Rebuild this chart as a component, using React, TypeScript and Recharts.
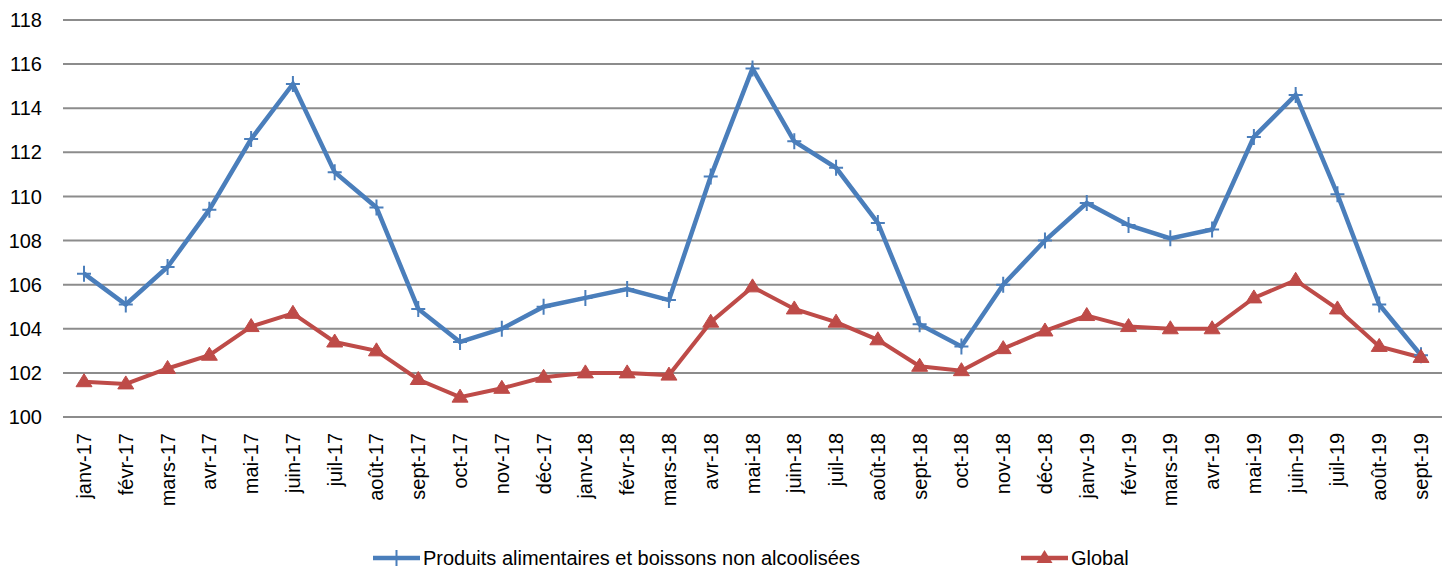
import React from 'react';
import { LineChart, Line, XAxis, YAxis, CartesianGrid, Legend } from 'recharts';

const months = [
  'janv-17', 'févr-17', 'mars-17', 'avr-17', 'mai-17', 'juin-17', 'juil-17', 'août-17', 'sept-17', 'oct-17', 'nov-17', 'déc-17',
  'janv-18', 'févr-18', 'mars-18', 'avr-18', 'mai-18', 'juin-18', 'juil-18', 'août-18', 'sept-18', 'oct-18', 'nov-18', 'déc-18',
  'janv-19', 'févr-19', 'mars-19', 'avr-19', 'mai-19', 'juin-19', 'juil-19', 'août-19', 'sept-19',
];

const alimentaire = [
  106.5, 105.1, 106.8, 109.4, 112.6, 115.1, 111.1, 109.5, 104.9, 103.4, 104.0, 105.0,
  105.4, 105.8, 105.3, 110.9, 115.8, 112.5, 111.3, 108.8, 104.2, 103.2, 106.0, 108.0,
  109.7, 108.7, 108.1, 108.5, 112.7, 114.6, 110.1, 105.1, 102.8,
];

const globalIdx = [
  101.6, 101.5, 102.2, 102.8, 104.1, 104.7, 103.4, 103.0, 101.7, 100.9, 101.3, 101.8,
  102.0, 102.0, 101.9, 104.3, 105.9, 104.9, 104.3, 103.5, 102.3, 102.1, 103.1, 103.9,
  104.6, 104.1, 104.0, 104.0, 105.4, 106.2, 104.9, 103.2, 102.7,
];

const yTicks = [100, 102, 104, 106, 108, 110, 112, 114, 116, 118];

const seriesNames = ['Produits alimentaires et boissons non alcoolisées', 'Global'];

const BLUE = '#4a7ebb';
const RED = '#be4b48';
const FONT = '"Liberation Sans", Arial, sans-serif';

const data = months.map((m, i) => ({ month: m, alim: alimentaire[i], global: globalIdx[i] }));

const PlusDot = (props: any) => {
  const { cx, cy, index } = props;
  if (cx == null || cy == null) return null;
  return (
    <path
      key={`plus-${index}`}
      d={`M${cx - 7},${cy}H${cx + 7}M${cx},${cy - 8}V${cy + 8}`}
      stroke={BLUE}
      strokeWidth={2}
      fill="none"
    />
  );
};

const TriDot = (props: any) => {
  const { cx, cy, index } = props;
  if (cx == null || cy == null) return null;
  return (
    <path
      key={`tri-${index}`}
      d={`M${cx},${cy - 8}L${cx + 8},${cy + 5}L${cx - 8},${cy + 5}Z`}
      fill={RED}
      stroke={RED}
      strokeWidth={1}
    />
  );
};

const XTick = (props: any) => {
  const { x, y, payload } = props;
  return (
    <g transform={`translate(${x},${y})`}>
      <text
        x={0}
        y={0}
        dy="0.35em"
        transform="rotate(-90)"
        textAnchor="end"
        fontFamily={FONT}
        fontSize={20}
        fill="#000"
      >
        {payload.value}
      </text>
    </g>
  );
};

const LegendIcon = ({ kind }: { kind: 'plus' | 'tri' }) => (
  <svg width={47} height={20} style={{ display: 'block' }}>
    <line x1={0} y1={10} x2={47} y2={10} stroke={kind === 'plus' ? BLUE : RED} strokeWidth={4.5} strokeLinecap="round" />
    {kind === 'plus' ? (
      <path d="M16.5,10H30.5M23.5,2V18" stroke={BLUE} strokeWidth={2} />
    ) : (
      <path d="M23.5,2L31.5,15L15.5,15Z" fill={RED} />
    )}
  </svg>
);

const LegendContent = () => (
  <div style={{ position: 'relative', width: 1442, height: 34, fontFamily: FONT, fontSize: 20, color: '#000' }}>
    <div style={{ position: 'absolute', left: 373, top: 8, display: 'flex', alignItems: 'center', height: 26 }}>
      <LegendIcon kind="plus" />
      <span style={{ marginLeft: 3, whiteSpace: 'nowrap' }}>{seriesNames[0]}</span>
    </div>
    <div style={{ position: 'absolute', left: 1021, top: 8, display: 'flex', alignItems: 'center', height: 26 }}>
      <LegendIcon kind="tri" />
      <span style={{ marginLeft: 3, whiteSpace: 'nowrap' }}>{seriesNames[1]}</span>
    </div>
  </div>
);

export default function App() {
  return (
    <div style={{ position: 'absolute', left: 0, top: 0, width: 1442, height: 571, background: '#fff' }}>
      <LineChart width={1442} height={571} data={data} margin={{ top: 20, right: 0, left: 0, bottom: 0 }}>
        <CartesianGrid vertical={false} stroke="#8c8c8c" strokeWidth={2} />
        <XAxis
          dataKey="month"
          interval={0}
          tickLine={false}
          axisLine={false}
          tickSize={0}
          tickMargin={16}
          height={120}
          padding={{ left: 21, right: 21 }}
          tick={<XTick />}
        />
        <YAxis
          domain={[100, 118]}
          ticks={yTicks}
          interval={0}
          width={63}
          tickLine={false}
          axisLine={false}
          tickSize={0}
          tickMargin={21}
          tick={{ fontFamily: FONT, fontSize: 20, fill: '#000' }}
        />
        <Legend verticalAlign="bottom" height={34} content={<LegendContent />} wrapperStyle={{ left: 0, width: 1442 }} />
        <Line
          type="linear"
          dataKey="alim"
          name={seriesNames[0]}
          stroke={BLUE}
          strokeWidth={4.5}
          dot={<PlusDot />}
          activeDot={false}
          isAnimationActive={false}
        />
        <Line
          type="linear"
          dataKey="global"
          name={seriesNames[1]}
          stroke={RED}
          strokeWidth={4}
          dot={<TriDot />}
          activeDot={false}
          isAnimationActive={false}
        />
      </LineChart>
    </div>
  );
}
